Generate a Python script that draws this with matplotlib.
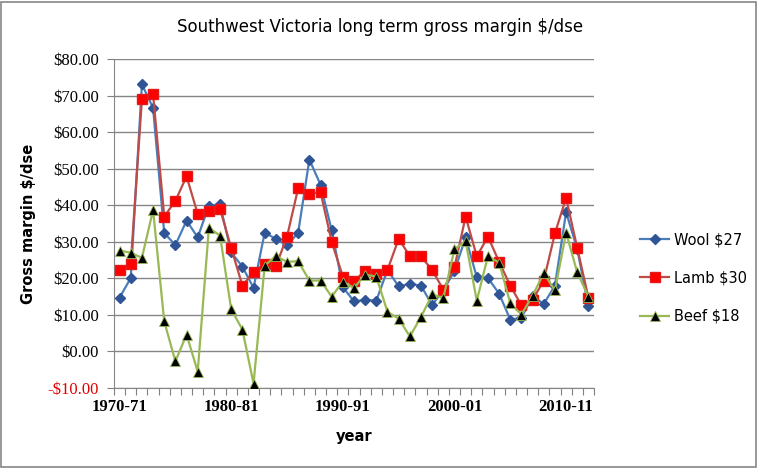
import numpy as np
import matplotlib.pyplot as plt
from matplotlib.ticker import FuncFormatter, FixedLocator

years = [f'{y}-{(y + 1) % 100:02d}' for y in range(1970, 2013)]

wool = [14.7, 20.1, 73.1, 66.6, 32.4, 29.1, 35.8, 31.2, 39.9, 40.2,
        27.1, 23.2, 17.4, 32.5, 30.8, 29.0, 32.5, 52.5, 45.6, 33.2,
        17.6, 13.7, 14.1, 13.9, 22.3, 17.8, 18.5, 18.0, 12.7, 16.7,
        22.0, 31.2, 20.3, 20.1, 15.8, 8.7, 9.2, 15.2, 13.0, 18.0,
        38.1, 28.0, 12.3]
lamb = [22.3, 24.0, 69.0, 70.4, 36.9, 41.2, 47.9, 37.6, 38.3, 39.0,
        28.3, 18.0, 21.7, 24.0, 23.3, 31.4, 44.7, 43.1, 43.6, 30.0,
        20.5, 19.2, 22.1, 21.2, 22.3, 30.8, 26.1, 26.0, 22.3, 16.9,
        23.0, 36.9, 26.0, 31.4, 24.5, 18.0, 12.6, 14.1, 19.4, 32.3,
        42.0, 28.3, 14.7]
beef = [27.6, 27.0, 25.6, 38.7, 8.2, -2.7, 4.6, -5.5, 33.8, 31.7,
        11.5, 6.0, -8.8, 23.5, 26.1, 24.5, 24.7, 19.4, 19.4, 15.0,
        19.1, 17.4, 21.0, 20.5, 10.8, 9.0, 4.1, 9.4, 15.6, 14.6,
        28.0, 30.1, 13.9, 26.1, 24.3, 13.2, 10.1, 15.3, 21.4, 16.7,
        32.5, 21.6, 15.0]

x = np.arange(len(years))

fig = plt.figure(figsize=(7.62, 4.68), dpi=100)
ax = fig.add_axes([114 / 762, 1 - 388 / 468, 480 / 762, 329 / 468])

ax.plot(x, wool, color='#4a7ebb', lw=1.6, marker='D', ms=5,
        mfc='#2f5597', mec='#2f5597', label='Wool $27', zorder=3)
ax.plot(x, lamb, color='#be4b48', lw=1.6, marker='s', ms=7,
        mfc='#ff0000', mec='#e31a1a', label='Lamb $30', zorder=4)
ax.plot(x, beef, color='#98b954', lw=1.6, marker='^', ms=6.5,
        mfc='black', mec='#98b954', mew=0.6, label='Beef $18', zorder=5)

ax.set_xlim(-0.5, len(years) - 0.5)
ax.set_ylim(-10, 80)
ax.set_yticks(np.arange(-10, 81, 10))
ax.yaxis.set_major_formatter(FuncFormatter(
    lambda v, p: f'-${abs(v):.2f}' if v < 0 else f'${v:.2f}'))
for lbl in ax.get_yticklabels():
    if lbl.get_text().startswith('-'):
        lbl.set_color('#e00000')

# category boundary ticks, labels every 10 years at category centres
ax.xaxis.set_major_locator(FixedLocator(np.arange(-0.5, len(years), 1)))
ax.xaxis.set_major_formatter(plt.NullFormatter())
ax.xaxis.set_minor_locator(FixedLocator(x[::10]))
ax.xaxis.set_minor_formatter(FuncFormatter(lambda v, p: years[int(round(v))]))
ax.tick_params(axis='x', which='major', length=5, color='#808080')
ax.tick_params(axis='x', which='minor', length=0, pad=8)
ax.tick_params(axis='y', length=5, color='#808080', pad=6)
for lbl in ax.get_xticklabels(minor=True):
    lbl.set_fontfamily('Liberation Serif')
    lbl.set_fontsize(12)
    lbl.set_fontweight('bold')
for lbl in ax.get_yticklabels():
    lbl.set_fontfamily('Liberation Serif')
    lbl.set_fontsize(12)

ax.grid(axis='y', color='#868686', lw=1)
ax.set_axisbelow(True)
for s in ['top', 'right']:
    ax.spines[s].set_visible(False)
for s in ['left', 'bottom']:
    ax.spines[s].set_color('#868686')

ax.set_ylabel('Gross margin $/dse', fontsize=10.5, fontweight='bold', labelpad=8)
ax.set_xlabel('year', fontsize=10.5, fontweight='bold', labelpad=10)
fig.text(380 / 762, 1 - 27 / 468, 'Southwest Victoria long term gross margin $/dse',
         ha='center', va='center', fontsize=12)

fig.legend(loc='center left', bbox_to_anchor=(640 / 762, 1 - 278 / 468),
           frameon=False, fontsize=10.5, handlelength=2.0, labelspacing=1.6,
           handletextpad=0.3, borderaxespad=0, borderpad=0)

fig.patches.append(plt.Rectangle((1 / 762, 1 / 468), 755 / 762, 465 / 468,
                                 transform=fig.transFigure, fill=False,
                                 ec='#868686', lw=1.2))

fig.savefig('out.png', dpi=100)
